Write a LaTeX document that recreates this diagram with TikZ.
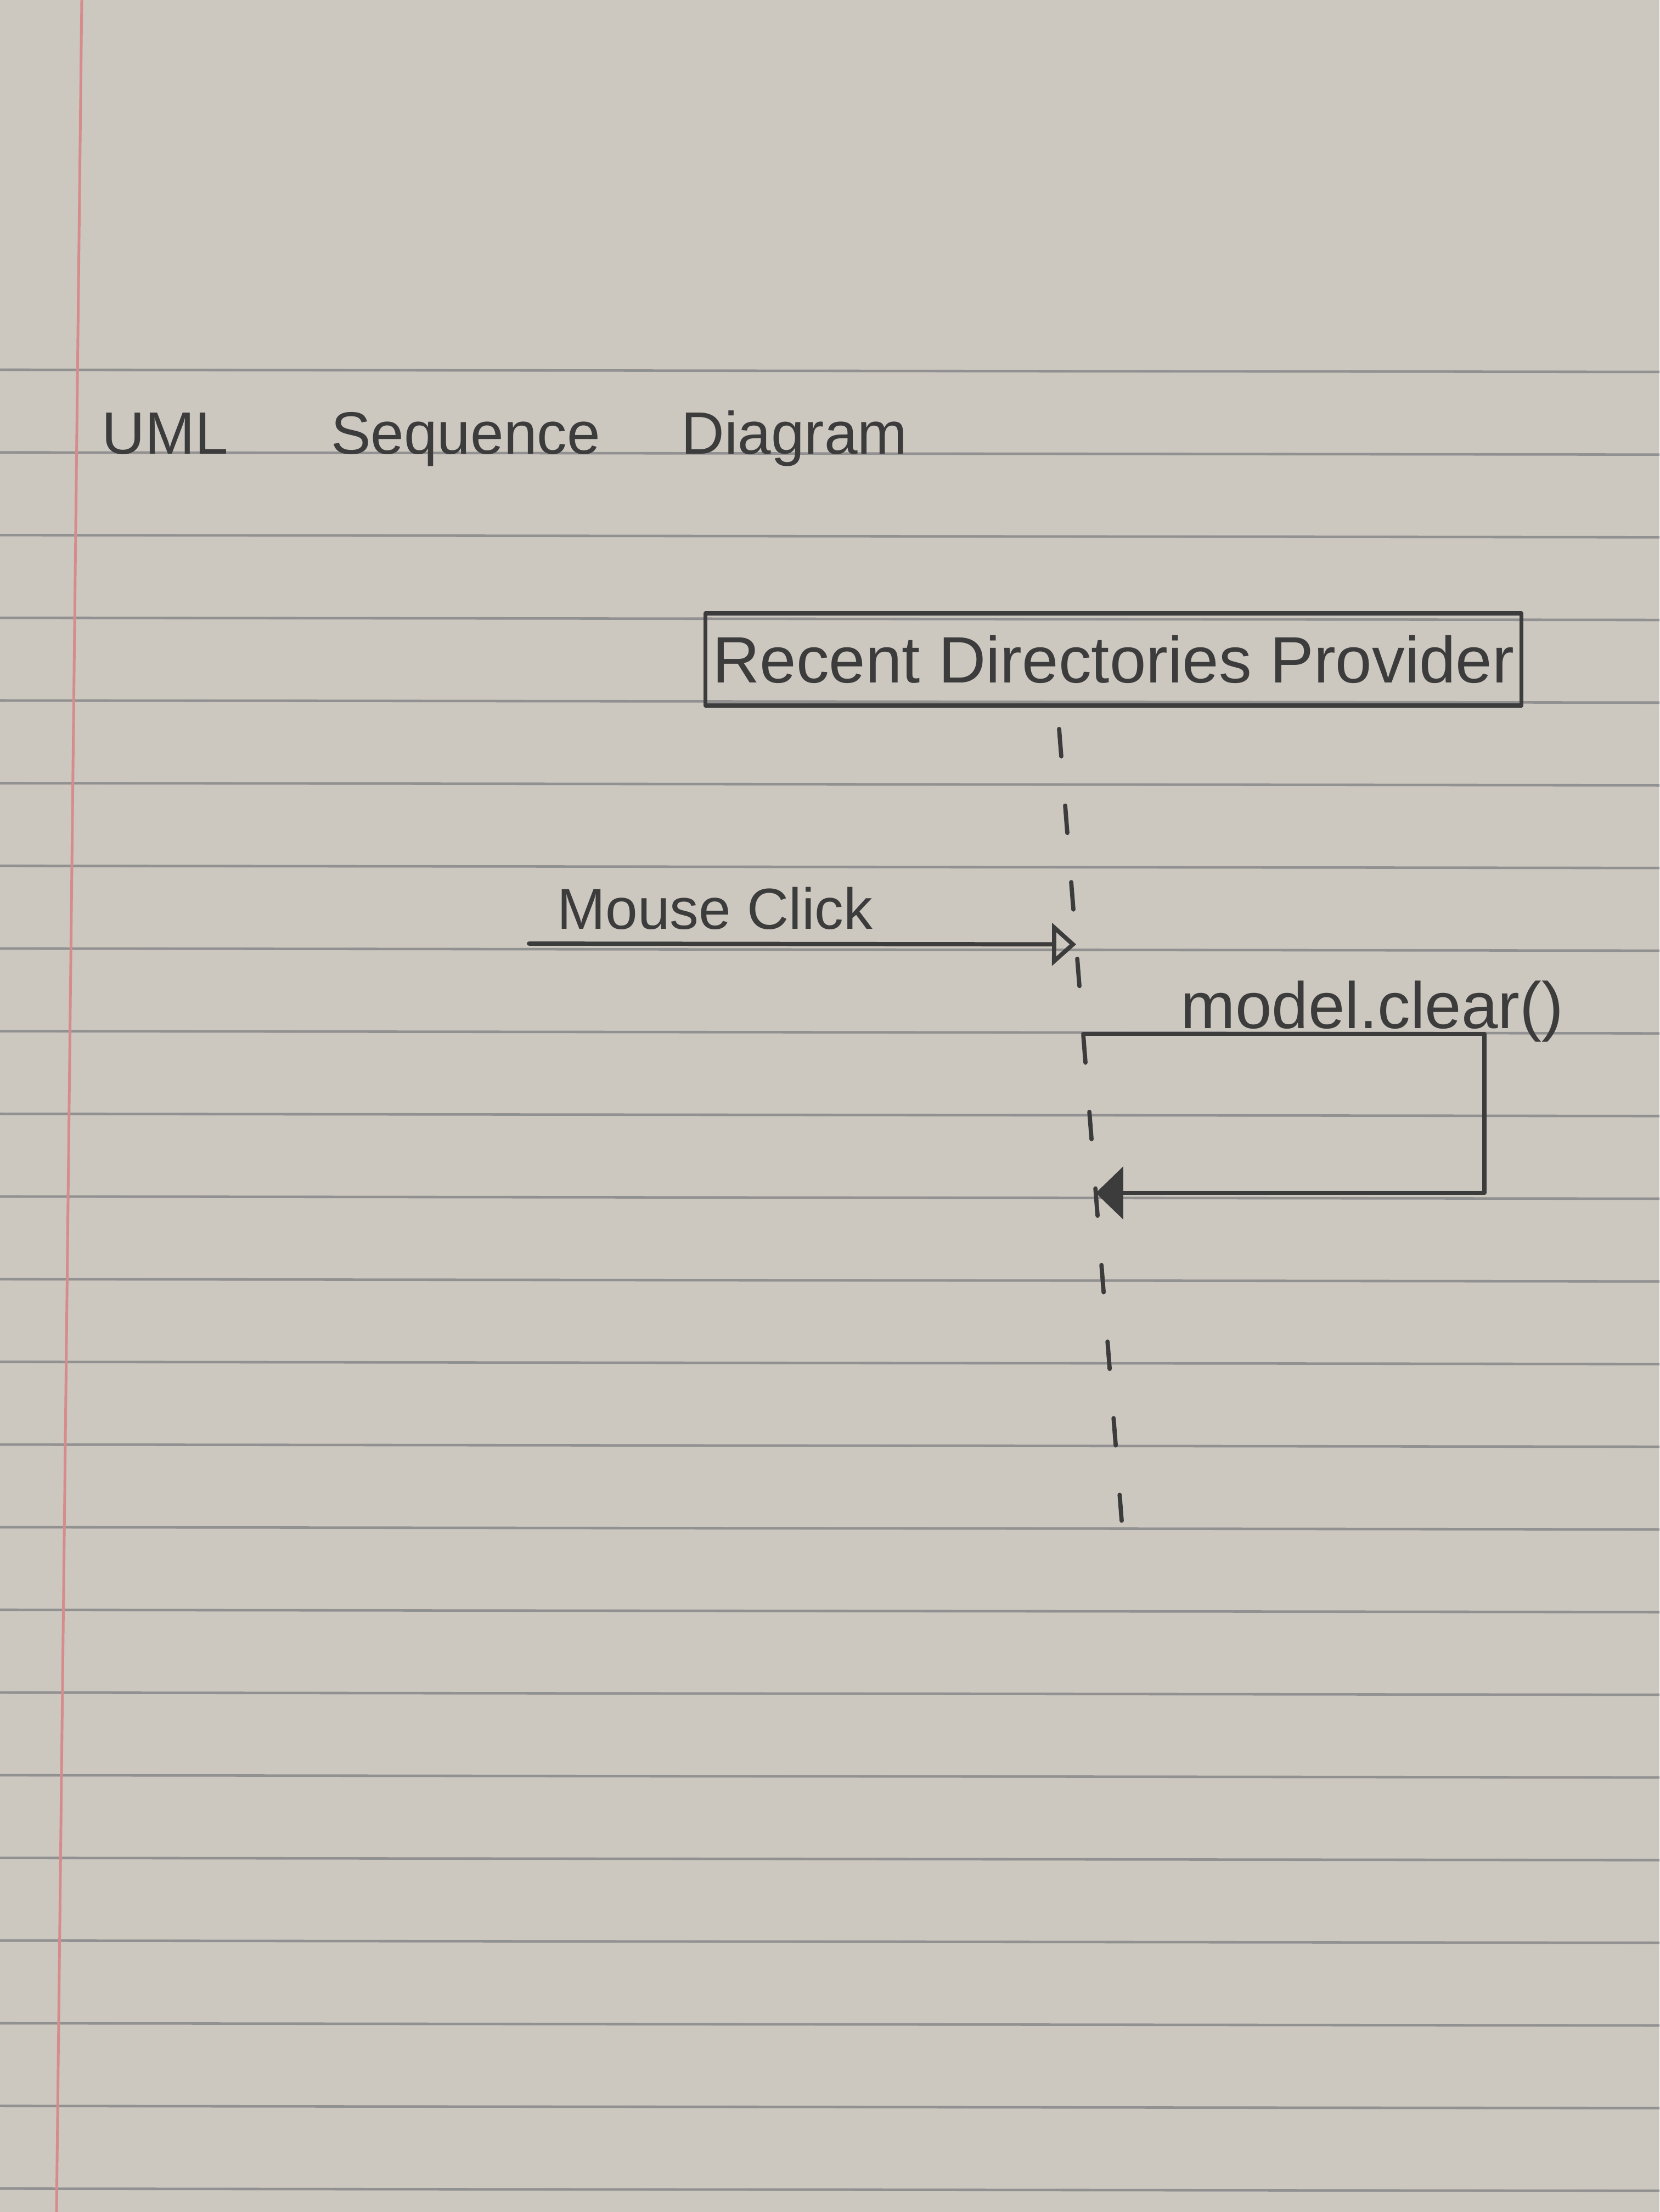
\documentclass[tikz,border=0pt]{standalone}
\usepackage{fontspec}
\setmainfont{Liberation Sans}
\usetikzlibrary{arrows.meta,calc}
\definecolor{paper}{RGB}{204,199,191}
\definecolor{rulecol}{RGB}{146,145,145}
\definecolor{margincol}{RGB}{214,140,140}
\definecolor{pencil}{RGB}{60,60,60}
\begin{document}
\begin{tikzpicture}[
  pen/.style={draw=pencil, line width=2.2pt, line cap=round, line join=round},
  lbl/.style={text=pencil, inner sep=0pt},
  actor/.style={pen, minimum width=14.87cm, minimum height=1.68cm, inner sep=0pt,
                text=pencil, font=\fontsize{34}{40}\selectfont},
  lifeline/.style={pen, dash pattern=on 0.5cm off 0.9cm},
  msg/.style={pen, -{Triangle[open, length=0.44cm, width=0.77cm]}},
  ret/.style={pen, -{Triangle[length=0.5cm, width=0.95cm]}},
]
% sheet of ruled paper
\fill[paper] (0,0) rectangle (30.24,40.32);
\useasboundingbox (0,0) rectangle (30.24,40.32);
\foreach \i in {0,...,22}
  \draw[rulecol, line width=1.3pt] (0,33.58-\i*1.507) -- (30.24,33.54-\i*1.507);
\draw[margincol, line width=1.4pt] (1.49,40.32) -- (1.03,0);

% heading
\node[lbl, anchor=base west, font=\fontsize{31}{38}\selectfont] (title) at (1.85,32.04)
  {UML\hspace{1.72em}Sequence\hspace{1.36em}Diagram};

% participant and its lifeline
\node[actor] (rdp) at (20.29,28.30) {Recent Directories Provider};
\coordinate (lt) at ($(rdp.south)+(-0.99,-0.39)$);
\coordinate (lb) at (20.44,12.60);
\draw[lifeline] (lt) -- (lb);

% incoming message
\coordinate (src) at (9.64,23.12);
\coordinate (m1) at ($(lt)!0.272!(lb)$);
\draw[msg] (src) -- node[lbl, pos=0.34, above=0.22cm, font=\fontsize{30}{36}\selectfont] (mclbl) {Mouse Click} (m1);

% self call
\coordinate (s1) at ($(lt)!0.385!(lb)$);
\coordinate (s2) at ($(lt)!0.586!(lb)$);
\coordinate (rx) at (27.05,0);
\draw[ret] (s1) -- node[lbl, pos=0.72, anchor=base, yshift=0.1cm, font=\fontsize{34}{40}\selectfont] (clbl) {model.clear()}
  (rx |- s1) -- (rx |- s2) -- (s2);
\end{tikzpicture}
\end{document}
